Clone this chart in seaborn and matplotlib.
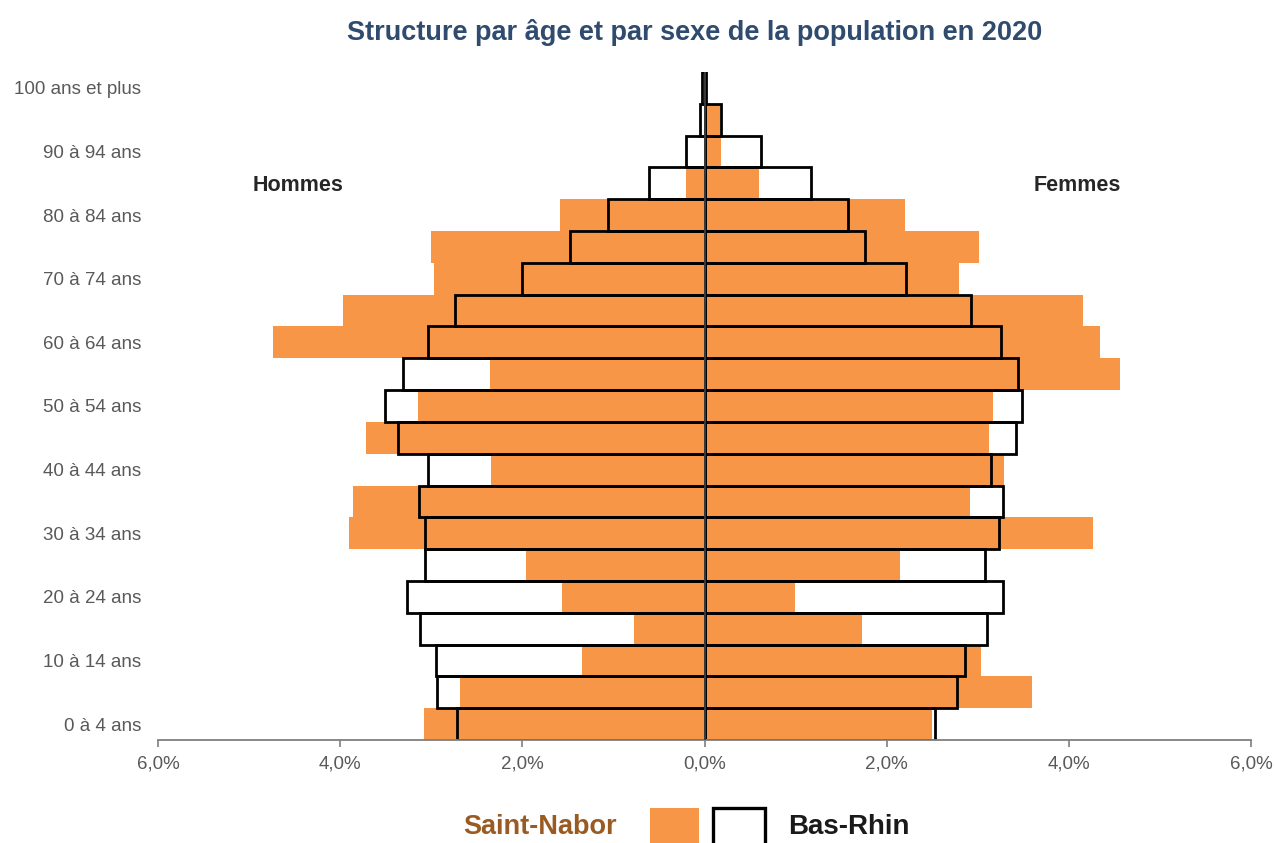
import matplotlib
matplotlib.use("Agg")
import matplotlib.pyplot as plt
import numpy as np
import pandas as pd
import seaborn as sns
from matplotlib.patches import Rectangle
from matplotlib.ticker import FuncFormatter

sns.set_style("white")
plt.rcParams["font.family"] = ["Liberation Sans", "DejaVu Sans"]

ORANGE = "#F79646"

ages = ["0 à 4 ans", "5 à 9 ans", "10 à 14 ans", "15 à 19 ans", "20 à 24 ans",
        "25 à 29 ans", "30 à 34 ans", "35 à 39 ans", "40 à 44 ans", "45 à 49 ans",
        "50 à 54 ans", "55 à 59 ans", "60 à 64 ans", "65 à 69 ans", "70 à 74 ans",
        "75 à 79 ans", "80 à 84 ans", "85 à 89 ans", "90 à 94 ans", "95 à 99 ans",
        "100 ans et plus"]

# parts de la population, en %
sn_hommes = [3.08, 2.68, 1.34, 0.77, 1.56, 1.96, 3.90, 3.86, 2.34, 3.72, 3.15,
             2.36, 4.74, 3.97, 2.97, 3.00, 1.59, 0.20, 0.0, 0.0, 0.0]
sn_femmes = [2.50, 3.60, 3.04, 1.73, 0.99, 2.15, 4.26, 2.92, 3.29, 3.12, 3.17,
             4.56, 4.34, 4.15, 2.79, 3.01, 2.20, 0.60, 0.18, 0.17, 0.0]
br_hommes = [2.72, 2.94, 2.95, 3.12, 3.27, 3.07, 3.07, 3.13, 3.04, 3.37, 3.51,
             3.31, 3.04, 2.74, 2.00, 1.48, 1.06, 0.61, 0.20, 0.05, 0.03]
br_femmes = [2.53, 2.77, 2.86, 3.10, 3.28, 3.08, 3.23, 3.28, 3.14, 3.42, 3.49,
             3.44, 3.25, 2.93, 2.21, 1.76, 1.57, 1.17, 0.62, 0.18, 0.02]

df = pd.DataFrame({
    "age": ages,
    "sn_h": -np.array(sn_hommes),
    "sn_f": sn_femmes,
    "br_h": -np.array(br_hommes),
    "br_f": br_femmes,
})
order = ages[::-1]

fig = plt.figure(figsize=(12.75, 8.43), dpi=100, facecolor="white")
ax = fig.add_axes([0.1239, 0.1222, 0.8573, 0.7924])

for col in ["sn_h", "sn_f"]:
    sns.barplot(data=df, x=col, y="age", order=order, orient="h", color=ORANGE,
                saturation=1, width=1.0, errorbar=None, linewidth=0, ax=ax)
for col in ["br_h", "br_f"]:
    sns.barplot(data=df, x=col, y="age", order=order, orient="h", color="black",
                fill=False, saturation=1, width=1.0, errorbar=None,
                linewidth=2.0, ax=ax)

ax.axvline(0, color="#404040", lw=1.3, zorder=10)

ax.set_xlim(-6, 6)
ax.set_ylim(len(ages) - 0.5, -0.5)
ax.set_xticks(np.arange(-6, 7, 2))
ax.xaxis.set_major_formatter(FuncFormatter(lambda v, p: f"{abs(v):.1f}%".replace(".", ",")))
ax.set_xlabel("")
ax.set_ylabel("")

shown = [i for i, a in enumerate(order) if ages.index(a) % 2 == 0]
ax.set_yticks(shown)
ax.set_yticklabels([order[i] for i in shown])
ax.tick_params(axis="y", left=False, length=0, pad=12, labelsize=13.5, labelcolor="#595959")
ax.tick_params(axis="x", bottom=True, length=5, width=1.2, color="#7f7f7f", pad=6,
               labelsize=13.5, labelcolor="#595959", direction="out")

for s in ["left", "right", "top"]:
    ax.spines[s].set_visible(False)
ax.spines["bottom"].set_color("#7f7f7f")
ax.spines["bottom"].set_linewidth(1.3)

fig.text(0.545, 0.962, "Structure par âge et par sexe de la population en 2020",
         ha="center", va="center", fontsize=19.5, fontweight="bold", color="#2F4B6E")
fig.text(0.2337, 0.7805, "Hommes", ha="center", va="center", fontsize=15.5,
         fontweight="bold", color="#262626")
fig.text(0.8447, 0.7805, "Femmes", ha="center", va="center", fontsize=15.5,
         fontweight="bold", color="#262626")

# légende
fig.text(0.4839, 0.019, "Saint-Nabor", ha="right", va="center", fontsize=19.5,
         fontweight="bold", color="#9A5B23")
fig.patches.append(Rectangle((0.5098, -0.01), 0.0384, 0.0516, transform=fig.transFigure,
                             facecolor=ORANGE, edgecolor="none"))
fig.patches.append(Rectangle((0.5592, -0.01), 0.0408, 0.0516, transform=fig.transFigure,
                             facecolor="white", edgecolor="black", linewidth=2.4))
fig.text(0.618, 0.019, "Bas-Rhin", ha="left", va="center", fontsize=20,
         fontweight="bold", color="#1a1a1a")

fig.savefig("out.png", dpi=100, facecolor="white")
